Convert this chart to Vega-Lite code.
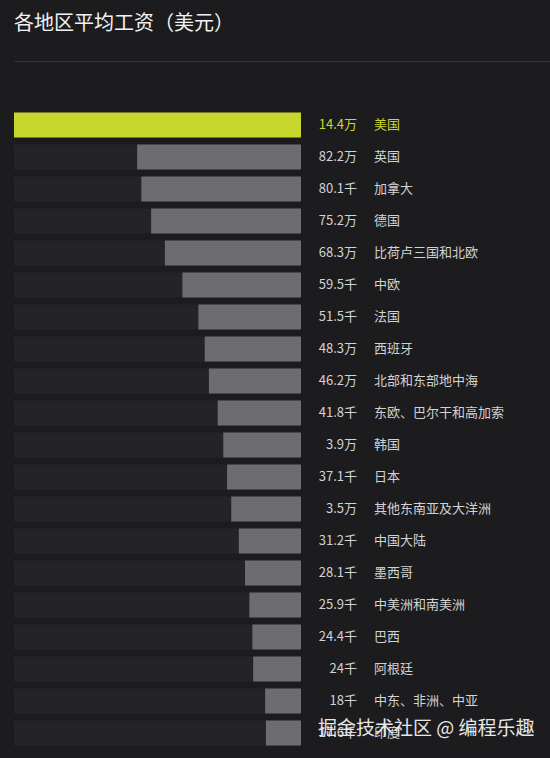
{
  "$schema": "https://vega.github.io/schema/vega-lite/v6.json",
  "width": 536,
  "height": 640,
  "autosize": {"type": "none"},
  "padding": {"left": 14, "top": 109, "right": 0, "bottom": 9},
  "background": "#1c1c1f",
  "config": {"view": {"stroke": null}, "font": "Noto Sans CJK SC"},
  "title": {
    "text": "各地区平均工资（美元）",
    "anchor": "start",
    "frame": "group",
    "fontSize": 20,
    "fontWeight": "normal",
    "color": "#f2f2f2",
    "font": "Noto Sans CJK SC",
    "offset": 27
  },
  "data": {
    "values": [
      {"region": "美国", "value": 144, "label": "14.4万"},
      {"region": "英国", "value": 82.2, "label": "82.2万"},
      {"region": "加拿大", "value": 80.1, "label": "80.1千"},
      {"region": "德国", "value": 75.2, "label": "75.2万"},
      {"region": "比荷卢三国和北欧", "value": 68.3, "label": "68.3万"},
      {"region": "中欧", "value": 59.5, "label": "59.5千"},
      {"region": "法国", "value": 51.5, "label": "51.5千"},
      {"region": "西班牙", "value": 48.3, "label": "48.3万"},
      {"region": "北部和东部地中海", "value": 46.2, "label": "46.2万"},
      {"region": "东欧、巴尔干和高加索", "value": 41.8, "label": "41.8千"},
      {"region": "韩国", "value": 39, "label": "3.9万"},
      {"region": "日本", "value": 37.1, "label": "37.1千"},
      {"region": "其他东南亚及大洋洲", "value": 35, "label": "3.5万"},
      {"region": "中国大陆", "value": 31.2, "label": "31.2千"},
      {"region": "墨西哥", "value": 28.1, "label": "28.1千"},
      {"region": "中美洲和南美洲", "value": 25.9, "label": "25.9千"},
      {"region": "巴西", "value": 24.4, "label": "24.4千"},
      {"region": "阿根廷", "value": 24, "label": "24千"},
      {"region": "中东、非洲、中亚", "value": 18, "label": "18千"},
      {"region": "印度", "value": 17.6, "label": "17.6千"}
    ]
  },
  "encoding": {
    "y": {
      "field": "region",
      "type": "nominal",
      "sort": null,
      "axis": null,
      "scale": {"paddingInner": 0.22, "paddingOuter": 0.11}
    }
  },
  "layer": [
    {
      "mark": {"type": "bar", "color": "#242427", "cornerRadius": 0},
      "encoding": {
        "x": {
          "datum": 144,
          "type": "quantitative",
          "scale": {"domain": [-124.93, 144], "reverse": true, "nice": false, "zero": false},
          "axis": {
            "orient": "top",
            "offset": 48,
            "labels": false,
            "ticks": false,
            "grid": false,
            "title": null,
            "domain": true,
            "domainColor": "#34343a",
            "domainWidth": 1
          }
        },
        "x2": {"datum": 0}
      }
    },
    {
      "mark": {"type": "bar"},
      "encoding": {
        "x": {"field": "value", "type": "quantitative"},
        "x2": {"datum": 0},
        "color": {
          "condition": {"test": "datum.region === '美国'", "value": "#c8d72e"},
          "value": "#6d6d6f"
        }
      }
    },
    {
      "mark": {"type": "text", "align": "right", "baseline": "middle", "dx": 56, "fontSize": 13},
      "encoding": {
        "x": {"datum": 0, "type": "quantitative"},
        "text": {"field": "label"},
        "color": {
          "condition": {"test": "datum.region === '美国'", "value": "#c8d72e"},
          "value": "#d2d2d2"
        },
        "fontWeight": {
          "condition": {"test": "datum.region === '美国'", "value": 700},
          "value": 400
        }
      }
    },
    {
      "mark": {"type": "text", "align": "left", "baseline": "middle", "dx": 73, "fontSize": 13},
      "encoding": {
        "x": {"datum": 0, "type": "quantitative"},
        "text": {"field": "region"},
        "color": {
          "condition": {"test": "datum.region === '美国'", "value": "#c8d72e"},
          "value": "#d2d2d2"
        },
        "fontWeight": {
          "condition": {"test": "datum.region === '美国'", "value": 700},
          "value": 400
        }
      }
    },
    {
      "data": {"values": [{"wm": "掘金技术社区 @ 编程乐趣", "region": "印度"}]},
      "mark": {"type": "text", "align": "left", "baseline": "middle", "dx": 17, "dy": -4, "fontSize": 19, "color": "#e6e6e6", "opacity": 1},
      "encoding": {
        "x": {"datum": 0, "type": "quantitative"},
        "y": {"field": "region", "type": "nominal", "sort": null, "axis": null},
        "text": {"field": "wm"}
      }
    }
  ]
}
